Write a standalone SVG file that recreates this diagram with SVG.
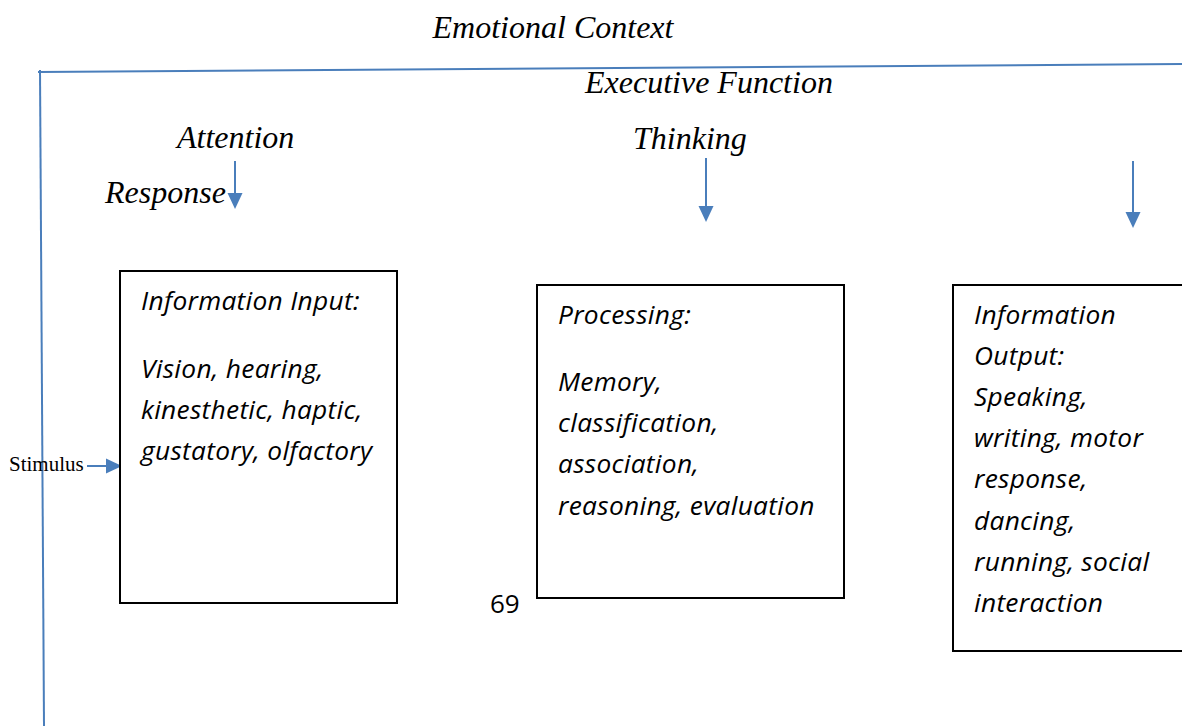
<svg xmlns="http://www.w3.org/2000/svg" width="1182" height="726" viewBox="0 0 1182 726">
<defs>
<style>
.ser{font-family:"Liberation Serif","Times New Roman",serif;font-style:italic;fill:#000}
.big{font-size:32px}
.box{fill:#fff;stroke:#000;stroke-width:2}
.bt{font-family:"Open Sans","Noto Sans",sans-serif;font-style:italic;font-size:26.3px;letter-spacing:0.3px;fill:#000}
.ln{stroke:#4a7ebb;stroke-width:2;fill:none}
</style>
<marker id="ah2" markerWidth="16" markerHeight="16" refX="14" refY="8" orient="auto" markerUnits="userSpaceOnUse" viewBox="0 0 16 16">
<path d="M0,0.5 L16,8 L0,15.5 z" fill="#4a7ebb"/>
</marker>
</defs>
<rect width="1182" height="726" fill="#fff"/>
<g id="frame">
<line class="ln" x1="38" y1="72" x2="1182" y2="64"/>
<line class="ln" x1="40" y1="70" x2="44" y2="726"/>
</g>
<g id="labels">
<text class="ser big" x="553" y="38" text-anchor="middle">Emotional Context</text>
<text class="ser big" x="585" y="93">Executive Function</text>
<text class="ser big" x="177" y="148">Attention</text>
<text class="ser big" x="633" y="149">Thinking</text>
<text class="ser big" x="105" y="203">Response</text>
<text x="9" y="471" font-family="Liberation Serif,'Times New Roman',serif" font-size="21">Stimulus</text>
<text x="490" y="613" font-family="'Open Sans','Noto Sans',sans-serif" font-size="26">69</text>
</g>
<g id="connectors">
<line class="ln" x1="235" y1="161" x2="235" y2="207" marker-end="url(#ah2)"/>
<line class="ln" x1="706" y1="158" x2="706" y2="220" marker-end="url(#ah2)"/>
<line class="ln" x1="1133" y1="161" x2="1133" y2="226" marker-end="url(#ah2)"/>
<line class="ln" x1="87" y1="466" x2="120" y2="466" marker-end="url(#ah2)"/>
</g>
<g id="input">
<rect class="box" x="120" y="271" width="277" height="332"/>
<text class="bt" x="141" y="310">Information Input:</text>
<text class="bt" x="141" y="378">Vision, hearing,</text>
<text class="bt" x="141" y="419">kinesthetic, haptic,</text>
<text class="bt" x="141" y="460">gustatory, olfactory</text>
</g>
<g id="processing">
<rect class="box" x="537" y="285" width="307" height="313"/>
<text class="bt" x="558" y="324">Processing:</text>
<text class="bt" x="558" y="391">Memory,</text>
<text class="bt" x="558" y="432">classification,</text>
<text class="bt" x="558" y="473">association,</text>
<text class="bt" x="558" y="515">reasoning, evaluation</text>
</g>
<g id="output">
<rect class="box" x="953" y="285" width="240" height="366"/>
<text class="bt" x="974" y="324">Information</text>
<text class="bt" x="974" y="365">Output:</text>
<text class="bt" x="974" y="406">Speaking,</text>
<text class="bt" x="974" y="447">writing, motor</text>
<text class="bt" x="974" y="488">response,</text>
<text class="bt" x="974" y="530">dancing,</text>
<text class="bt" x="974" y="571">running, social</text>
<text class="bt" x="974" y="612">interaction</text>
</g>
</svg>
